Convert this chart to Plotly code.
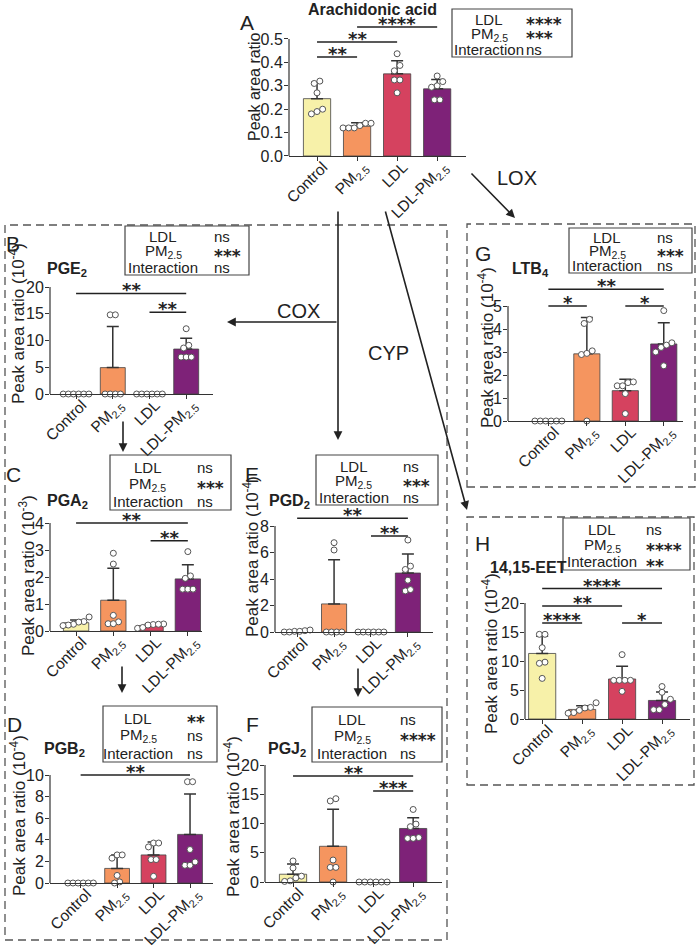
import plotly.graph_objects as go

W, H = 700, 948
FONT = "Liberation Sans, Arial, sans-serif"
STAR_FONT = "DejaVu Sans, Liberation Sans, sans-serif"
INK = "#222222"
AXC = "#333333"

CATEGORIES = ["Control", "PM<sub>2.5</sub>", "LDL", "LDL-PM<sub>2.5</sub>"]
BAR_COLORS = ["#F7F1A9", "#F5955F", "#D5425F", "#7E2278"]
STAT_ROWS = ["LDL", "PM<sub>2.5</sub>", "Interaction"]

# ---- Panel A: Arachidonic acid
A_MEAN = [0.245, 0.127, 0.351, 0.287]
A_SD = [0.070, 0.015, 0.056, 0.040]
A_DOTS = [[0.18, 0.20, 0.19, 0.31, 0.32, 0.27],
          [0.14, 0.12, 0.12, 0.14, 0.12, 0.13],
          [0.437, 0.387, 0.364, 0.325, 0.325, 0.27],
          [0.342, 0.30, 0.294, 0.24, 0.24, 0.318]]
A_SIG = [(0, 1, "**", 0.423), (0, 2, "**", 0.487), (1, 3, "****", 0.551)]
A_STATS = ["****", "***", "ns"]

# ---- Panel B: PGE2 (1e-4)
B_MEAN = [0.0, 4.93, 0.0, 8.4]
B_SD = [0.0, 7.7, 0.0, 2.0]
B_DOTS = [[0, 0, 0, 0, 0, 0],
          [14.8, 14.8, 0, 0, 0, 0],
          [0, 0, 0, 0, 0, 0],
          [12.2, 9.1, 8.6, 6.9, 6.9, 6.9]]
B_SIG = [(0, 3, "**", 18.8), (2, 3, "**", 15.3)]
B_STATS = ["ns", "***", "ns"]

# ---- Panel C: PGA2 (1e-3)
C_MEAN = [0.31, 1.14, 0.20, 1.93]
C_SD = [0.10, 1.18, 0.05, 0.52]
C_DOTS = [[0.52, 0.35, 0.33, 0.25, 0.22, 0.2],
          [2.88, 2.48, 0.58, 0.34, 0.27, 0.27],
          [0.26, 0.24, 0.25, 0.22, 0.1, 0.13],
          [2.94, 2.04, 1.95, 1.55, 1.55, 1.55]]
C_SIG = [(0, 3, "**", 4.0), (2, 3, "**", 3.34)]
C_STATS = ["ns", "***", "ns"]

# ---- Panel D: PGB2 (1e-4)
D_MEAN = [0.0, 1.35, 2.6, 4.5]
D_SD = [0.0, 1.25, 1.2, 3.75]
D_DOTS = [[0, 0, 0, 0, 0, 0],
          [2.6, 2.6, 2.3, 0.7, 0.1, 0.0],
          [3.7, 3.7, 3.34, 2.17, 2.17, 0.62],
          [9.38, 9.38, 3.1, 1.64, 1.95, 1.64]]
D_SIG = [(0, 3, "**", 10.0)]
D_STATS = ["**", "ns", "ns"]

# ---- Panel E: PGD2 (1e-4)
E_MEAN = [0.06, 2.12, 0.0, 4.45]
E_SD = [0.0, 3.33, 0.0, 1.44]
E_DOTS = [[0.1, 0.05, 0.0, 0.15, 0.0, 0.05],
          [6.74, 6.19, 0, 0, 0, 0],
          [0, 0, 0, 0, 0, 0],
          [6.94, 4.97, 4.72, 3.91, 3.1, 3.2]]
E_SIG = [(0, 3, "**", 8.58), (2, 3, "**", 7.24)]
E_STATS = ["ns", "***", "ns"]

# ---- Panel F: PGJ2 (1e-4)
F_MEAN = [1.33, 6.1, 0.0, 9.15]
F_SD = [1.75, 6.35, 0.0, 1.85]
F_DOTS = [[3.6, 2.4, 1.0, 0.7, 0.2, 0.1],
          [13.85, 14.24, 3.76, 2.5, 2.5, 0.0],
          [0, 0, 0, 0, 0, 0],
          [12.4, 9.9, 9.46, 7.46, 7.6, 7.46]]
F_SIG = [(0, 3, "**", 18.1), (2, 3, "***", 15.55)]
F_STATS = ["ns", "****", "ns"]

# ---- Panel G: LTB4 (1e-4)
G_MEAN = [0.0, 2.92, 1.32, 3.35]
G_SD = [0.0, 1.58, 0.5, 0.92]
G_DOTS = [[0, 0, 0, 0, 0, 0],
          [4.42, 4.24, 3.05, 2.89, 2.94, 0.0],
          [1.53, 1.53, 1.67, 1.7, 1.19, 0.32],
          [4.8, 3.3, 3.4, 3.0, 2.4, 3.2]]
G_SIG = [(0, 1, "*", 5.0), (2, 3, "*", 5.0), (0, 3, "**", 5.73)]
G_STATS = ["ns", "***", "ns"]

# ---- Panel H: 14,15-EET (1e-4)
H_MEAN = [11.3, 1.65, 6.9, 3.2]
H_SD = [2.95, 0.65, 2.2, 1.45]
H_DOTS = [[14.6, 14.6, 12.3, 9.8, 9.6, 7.0],
          [2.8, 2.0, 1.9, 1.5, 1.1, 1.0],
          [11.1, 6.67, 6.67, 6.67, 6.67, 4.77],
          [5.6, 4.6, 3.4, 2.5, 1.6, 1.6]]
H_SIG = [(0, 1, "****", 16.55), (0, 2, "**", 19.5), (2, 3, "*", 16.55), (0, 3, "****", 22.5)]
H_STATS = ["ns", "****", "**"]

# ---------------- layout (pixel geometry) ----------------
PANELS = [
    dict(letter="A", title="Arachidonic acid", ytitle="Peak area ratio", ysize=16,
         data=(A_MEAN, A_SD, A_DOTS, A_SIG, A_STATS),
         x0=289, x1=466, zero=156, top=39, ymax=0.5, dt=0.1, xr=[-0.7, 3.72], fmt=".1f",
         letter_xy=(247, 22), title_xy=(372, 10), ytitle_xy=(254, 87),
         box=(452, 9, 572, 57), col2=0.60),
    dict(letter="B", title="PGE<sub>2</sub>", ytitle="Peak area ratio (10<sup>-4</sup>)", ysize=17,
         data=(B_MEAN, B_SD, B_DOTS, B_SIG, B_STATS),
         x0=50, x1=213, zero=394, top=287, ymax=20, dt=5, xr=[-0.71, 3.73], fmt="d",
         letter_xy=(13, 243), title_xy=(67, 269), ytitle_xy=(17, 324),
         box=(125, 226, 249, 275), col2=0.70),
    dict(letter="C", title="PGA<sub>2</sub>", ytitle="Peak area ratio (10<sup>-3</sup>)", ysize=17,
         data=(C_MEAN, C_SD, C_DOTS, C_SIG, C_STATS),
         x0=50, x1=202, zero=631, top=523, ymax=4, dt=1, xr=[-0.7, 3.38], fmt="d",
         letter_xy=(13, 474), title_xy=(67, 501), ytitle_xy=(27, 576),
         box=(110, 455, 231, 510), col2=0.70),
    dict(letter="D", title="PGB<sub>2</sub>", ytitle="Peak area ratio (10<sup>-4</sup>)", ysize=17,
         data=(D_MEAN, D_SD, D_DOTS, D_SIG, D_STATS),
         x0=50, x1=213, zero=883, top=775, ymax=10, dt=2, xr=[-0.84, 3.63], fmt="d",
         letter_xy=(14, 724), title_xy=(64, 749), ytitle_xy=(18, 816),
         box=(103, 706, 217, 762), col2=0.72),
    dict(letter="E", title="PGD<sub>2</sub>", ytitle="Peak area ratio (10<sup>-4</sup>)", ysize=17,
         data=(E_MEAN, E_SD, E_DOTS, E_SIG, E_STATS),
         x0=275, x1=433, zero=632, top=526, ymax=8, dt=2, xr=[-0.6, 3.68], fmt="d",
         letter_xy=(252, 474), title_xy=(289, 501), ytitle_xy=(251, 557),
         box=(316, 455, 438, 505), col2=0.70),
    dict(letter="F", title="PGJ<sub>2</sub>", ytitle="Peak area ratio (10<sup>-4</sup>)", ysize=17,
         data=(F_MEAN, F_SD, F_DOTS, F_SIG, F_STATS),
         x0=265, x1=442, zero=882, top=765, ymax=20, dt=5, xr=[-0.7, 3.72], fmt="d",
         letter_xy=(252, 724), title_xy=(287, 749), ytitle_xy=(232, 816),
         box=(312, 707, 442, 762), col2=0.66),
    dict(letter="G", title="LTB<sub>4</sub>", ytitle="Peak area ratio (10<sup>-4</sup>)", ysize=17,
         data=(G_MEAN, G_SD, G_DOTS, G_SIG, G_STATS),
         x0=508, x1=683, zero=421, top=306, ymax=5, dt=1, xr=[-1.05, 3.5], fmt="d",
         letter_xy=(483, 253), title_xy=(530, 270), ytitle_xy=(486, 348),
         box=(569, 228, 692, 273), col2=0.70),
    dict(letter="H", title="14,15-EET", ytitle="Peak area ratio (10<sup>-4</sup>)", ysize=17,
         data=(H_MEAN, H_SD, H_DOTS, H_SIG, H_STATS),
         x0=525, x1=690, zero=719, top=603, ymax=20, dt=5, xr=[-0.43, 3.7], fmt="d",
         letter_xy=(483, 543), title_xy=(528, 567), ytitle_xy=(490, 653),
         box=(563, 518, 690, 570), col2=0.64),
]

DASHED_BOXES = [(5, 225, 447, 940), (467, 224, 695, 487), (467, 517, 694, 785)]
ARROWS = [((338, 210), (338, 440)), ((338, 322), (227, 322)), ((385, 210), (467, 510)),
          ((470, 172), (515, 218)), ((123, 420), (123, 452)), ((122, 665), (122, 693)),
          ((358, 667), (358, 697))]
PATH_LABELS = [("COX", 298, 311), ("CYP", 388, 353), ("LOX", 517, 178)]


def px(x):
    return x / W


def py(y):
    return 1 - y / H


def swarm(vals, ppu, spacing=0.14, thresh_px=5.5):
    order = sorted(range(len(vals)), key=lambda k: vals[k])
    offs = [0.0] * len(vals)
    clusters, cur = [], [order[0]]
    for k in order[1:]:
        if (vals[k] - vals[cur[-1]]) * ppu < thresh_px:
            cur.append(k)
        else:
            clusters.append(cur)
            cur = [k]
    clusters.append(cur)
    for c in clusters:
        n = len(c)
        for j, k in enumerate(c):
            offs[k] = (j - (n - 1) / 2) * spacing
    return offs


def note(x, y, text, size, family=FONT, **kw):
    d = dict(x=px(x), y=py(y), xref="paper", yref="paper", text=text, showarrow=False,
             xanchor="center", yanchor="middle", font=dict(size=size, family=family, color=INK))
    d.update(kw)
    return d


fig = go.Figure()
shapes, annotations = [], []
layout = dict(width=W, height=H, autosize=False,
              margin=dict(l=0, r=0, t=0, b=0, pad=0, autoexpand=False),
              paper_bgcolor="white", plot_bgcolor="rgba(0,0,0,0)",
              showlegend=False, font=dict(family=FONT, color=INK))

for i, p in enumerate(PANELS, start=1):
    sfx = "" if i == 1 else str(i)
    xa, ya = "x" + sfx, "y" + sfx
    mean, sd, dots, sig, stats = p["data"]
    ppu = (p["zero"] - p["top"]) / p["ymax"]
    ytop = max([p["ymax"]] + [s[3] for s in sig]) + 0.03 * p["ymax"]
    dom_top = p["zero"] - ytop * ppu
    nt = int(round(p["ymax"] / p["dt"]))
    tv = [k * p["dt"] for k in range(nt + 1)]
    tt = [format(v, ".1f") if p["fmt"] == ".1f" else str(int(round(v))) for v in tv]

    layout["xaxis" + sfx] = dict(domain=[px(p["x0"]), px(p["x1"])], range=p["xr"], anchor=ya,
                                 automargin=False,
                                 tickvals=[0, 1, 2, 3], ticktext=CATEGORIES, tickangle=-45,
                                 ticklabelstandoff=-9, ticklabelshift=6,
                                 showline=True, linecolor=AXC, linewidth=1.2,
                                 ticks="outside", ticklen=4, tickwidth=1.2, tickcolor=AXC,
                                 showgrid=False, zeroline=False, fixedrange=True,
                                 tickfont=dict(size=15.5, family=FONT, color=INK))
    layout["yaxis" + sfx] = dict(domain=[py(p["zero"]), py(dom_top)], range=[0, ytop], anchor=xa,
                                 automargin=False, ticklabelstandoff=-2,
                                 tickvals=tv, ticktext=tt, showline=False,
                                 ticks="outside", ticklen=4, tickwidth=1.2, tickcolor=AXC,
                                 showgrid=False, zeroline=False, fixedrange=True,
                                 tickfont=dict(size=16, family=FONT, color=INK))
    # y axis line only up to the top tick
    shapes.append(dict(type="line", xref=xa + " domain", x0=0, x1=0, yref=ya, y0=0, y1=p["ymax"],
                       line=dict(color=AXC, width=1.2)))

    fig.add_trace(go.Bar(x=[0, 1, 2, 3], y=mean, width=0.68, xaxis=xa, yaxis=ya,
                         marker=dict(color=BAR_COLORS, line=dict(color="#444444", width=0.8)),
                         error_y=dict(type="data", array=sd, arrayminus=[0] * 4, symmetric=False,
                                      color=AXC, thickness=1.5, width=6),
                         hoverinfo="skip"))
    xs, ys = [], []
    for g, vals in enumerate(dots):
        offs = swarm(vals, ppu)
        xs += [g + o for o in offs]
        ys += vals
    fig.add_trace(go.Scatter(x=xs, y=ys, mode="markers", xaxis=xa, yaxis=ya, cliponaxis=False,
                             marker=dict(size=6, color="white", line=dict(color="#555555", width=1)),
                             hoverinfo="skip"))
    for a, b, stars, h in sig:
        fig.add_trace(go.Scatter(x=[a, b], y=[h, h], mode="lines", xaxis=xa, yaxis=ya,
                                 line=dict(color=INK, width=1.5), hoverinfo="skip"))
        annotations.append(dict(x=(a + b) / 2, y=h, xref=xa, yref=ya, text="<b>" + stars + "</b>",
                                showarrow=False, xanchor="center", yanchor="bottom", yshift=-9,
                                font=dict(size=18, family=STAR_FONT, color=INK)))

    # panel letter, title, y title
    annotations.append(note(*p["letter_xy"], p["letter"], 21))
    annotations.append(note(*p["title_xy"], "<b>" + p["title"] + "</b>", 16))
    annotations.append(note(*p["ytitle_xy"], p["ytitle"], p["ysize"], textangle=-90))

    # stats box
    bx0, by0, bx1, by1 = p["box"]
    shapes.append(dict(type="rect", xref="paper", yref="paper", x0=px(bx0), x1=px(bx1),
                       y0=py(by1), y1=py(by0), line=dict(color="#444444", width=1.2)))
    bw, bh = bx1 - bx0, by1 - by0
    for r, (lab, val) in enumerate(zip(STAT_ROWS, stats)):
        ry = by0 + bh * (0.22 + 0.31 * r)
        annotations.append(note(bx0 + 0.31 * bw, ry, lab, 15))
        if val == "ns":
            annotations.append(note(bx0 + p["col2"] * bw, ry, val, 15, xanchor="left"))
        else:
            annotations.append(note(bx0 + p["col2"] * bw, ry + 4, "<b>" + val + "</b>", 17,
                                    family=STAR_FONT, xanchor="left"))

for (x0, y0, x1, y1) in DASHED_BOXES:
    shapes.append(dict(type="rect", xref="paper", yref="paper", x0=px(x0), x1=px(x1),
                       y0=py(y1), y1=py(y0), line=dict(color="#555555", width=1.3, dash="8px,5px")))

for (tail, head) in ARROWS:
    annotations.append(dict(x=px(head[0]), y=py(head[1]), xref="paper", yref="paper", text="",
                            showarrow=True, axref="pixel", ayref="pixel",
                            ax=tail[0] - head[0], ay=tail[1] - head[1],
                            arrowhead=2, arrowsize=1.1, arrowwidth=1.6, arrowcolor=INK))

for (t, x, y) in PATH_LABELS:
    annotations.append(note(x, y, t, 20))

layout["shapes"] = shapes
layout["annotations"] = annotations
fig.update_layout(**layout)
fig.write_html("out.html", config=dict(displayModeBar=False),
               post_script="document.body.style.margin='0px';")
